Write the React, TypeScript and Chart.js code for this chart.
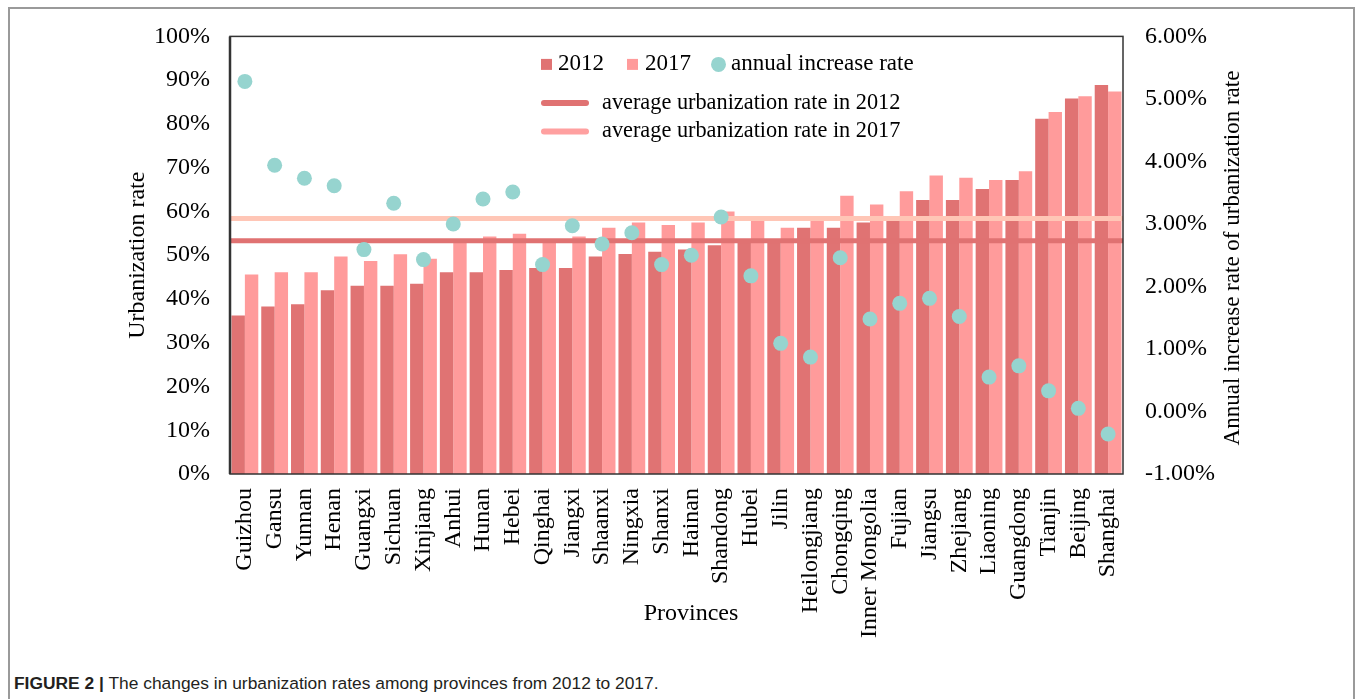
import React, { useEffect, useRef } from "react";
import { Chart, registerables } from "chart.js";

Chart.register(...registerables);

// ---------------- data ----------------
const provinces = [
  "Guizhou", "Gansu", "Yunnan", "Henan", "Guangxi", "Sichuan", "Xinjiang", "Anhui",
  "Hunan", "Hebei", "Qinghai", "Jiangxi", "Shaanxi", "Ningxia", "Shanxi", "Hainan",
  "Shandong", "Hubei", "Jilin", "Heilongjiang", "Chongqing", "Inner Mongolia", "Fujian",
  "Jiangsu", "Zhejiang", "Liaoning", "Guangdong", "Tianjin", "Beijing", "Shanghai",
];

const urbanization2012 = [
  36.2, 38.3, 38.8, 42.0, 43.0, 43.0, 43.5, 46.1, 46.1, 46.6, 47.1, 47.1, 49.7, 50.3, 50.8,
  51.3, 52.3, 53.7, 53.7, 56.3, 56.3, 57.5, 58.0, 62.6, 62.6, 65.1, 67.2, 81.2, 85.8, 88.9,
];

const urbanization2017 = [
  45.6, 46.1, 46.1, 49.7, 48.7, 50.2, 49.2, 53.3, 54.3, 54.9, 53.3, 54.3, 56.3, 57.5, 56.9,
  57.5, 60.0, 58.0, 56.3, 58.0, 63.6, 61.6, 64.6, 68.2, 67.7, 67.2, 69.2, 82.7, 86.3, 87.4,
];

const annualIncreaseRate = [
  5.28, 3.94, 3.73, 3.61, 2.59, 3.33, 2.43, 3.0, 3.4, 3.51, 2.35, 2.97, 2.68, 2.86, 2.35,
  2.5, 3.11, 2.17, 1.09, 0.87, 2.46, 1.48, 1.73, 1.81, 1.52, 0.55, 0.73, 0.33, 0.05, -0.36,
];

const average2012 = 53.3;
const average2017 = 58.4;

const leftAxisRange = [0, 100];
const leftAxisStep = 10;
const rightAxisRange = [-1, 6];
const rightAxisStep = 1;

const seriesNames = ["2012", "2017", "annual increase rate"];
const averageNames = ["average urbanization rate in 2012", "average urbanization rate in 2017"];
const leftTitle = "Urbanization rate";
const rightTitle = "Annual increase rate of urbanization rate";
const xTitle = "Provinces";

// ---------------- styles ----------------
const SERIF = "'Liberation Serif', 'Times New Roman', serif";
const COLOR_2012 = "#e07373";
const COLOR_2017 = "#ff9b9b";
const COLOR_DOT = "#96d4cf";
const COLOR_AVG2012 = "#e07272";
const COLOR_AVG2017_LINE = "#ffc6b6";
const COLOR_AVG2017_LEGEND = "#ffa0a0";

const W = 1355;
const H = 650;
const AREA = { left: 230, right: 1123, top: 35, bottom: 474 };

const decorPlugin = {
  id: "decor",
  beforeDatasetDraw(chart: any, args: any) {
    if (args.meta.type !== "line") return;
    const { ctx, chartArea: a, scales } = chart;
    const y = scales.y;
    ctx.save();
    ctx.lineWidth = 5;
    const lines: [number, string][] = [
      [average2017, COLOR_AVG2017_LINE],
      [average2012, COLOR_AVG2012],
    ];
    lines.forEach(([v, c]) => {
      const py = y.getPixelForValue(v);
      ctx.strokeStyle = c;
      ctx.beginPath();
      ctx.moveTo(a.left, py);
      ctx.lineTo(a.right, py);
      ctx.stroke();
    });
    ctx.restore();
  },
  afterDraw(chart: any) {
    const { ctx, chartArea: a } = chart;
    ctx.save();
    // plot frame
    ctx.strokeStyle = "#333";
    ctx.lineWidth = 1.5;
    ctx.strokeRect(a.left, a.top, a.right - a.left, a.bottom - a.top);
    ctx.lineWidth = 2.5;
    ctx.beginPath();
    ctx.moveTo(a.left, a.top);
    ctx.lineTo(a.left, a.bottom);
    ctx.stroke();

    // legend
    ctx.fillStyle = "#000";
    ctx.textBaseline = "middle";
    ctx.textAlign = "left";
    ctx.font = `23px ${SERIF}`;
    const ly = a.top + 28;
    ctx.fillStyle = COLOR_2012;
    ctx.fillRect(a.left + 311, ly - 5.5, 11, 11);
    ctx.fillStyle = "#000";
    ctx.fillText(seriesNames[0], a.left + 328, ly);
    ctx.fillStyle = COLOR_2017;
    ctx.fillRect(a.left + 397, ly - 5.5, 11, 11);
    ctx.fillStyle = "#000";
    ctx.fillText(seriesNames[1], a.left + 415, ly);
    ctx.fillStyle = COLOR_DOT;
    ctx.beginPath();
    ctx.arc(a.left + 488.5, ly, 7.5, 0, Math.PI * 2);
    ctx.fill();
    ctx.fillStyle = "#000";
    ctx.fillText(seriesNames[2], a.left + 501, ly);

    ctx.font = `22.3px ${SERIF}`;
    ctx.lineCap = "round";
    ctx.lineWidth = 6;
    const rows: [number, string, string][] = [
      [a.top + 66.5, COLOR_AVG2012, averageNames[0]],
      [a.top + 95, COLOR_AVG2017_LEGEND, averageNames[1]],
    ];
    rows.forEach(([yy, c, t]) => {
      ctx.strokeStyle = c;
      ctx.beginPath();
      ctx.moveTo(a.left + 314, yy);
      ctx.lineTo(a.left + 356, yy);
      ctx.stroke();
      ctx.fillStyle = "#000";
      ctx.fillText(t, a.left + 372, yy);
    });

    // axis titles
    ctx.textAlign = "center";
    ctx.fillStyle = "#000";
    ctx.font = `24px ${SERIF}`;
    ctx.save();
    ctx.translate(138, (a.top + a.bottom) / 2);
    ctx.rotate(-Math.PI / 2);
    ctx.fillText(leftTitle, 0, 0);
    ctx.restore();

    ctx.font = `23px ${SERIF}`;
    ctx.save();
    ctx.translate(1233, 258);
    ctx.rotate(-Math.PI / 2);
    ctx.fillText(rightTitle, 0, 0);
    ctx.restore();

    ctx.font = `24px ${SERIF}`;
    ctx.fillText(xTitle, 691, 614);
    ctx.restore();
  },
};

export default function App() {
  const canvasRef = useRef<HTMLCanvasElement | null>(null);

  useEffect(() => {
    if (!canvasRef.current) return;
    const tickFont = { family: SERIF, size: 24 };
    const chart = new Chart(canvasRef.current, {
      type: "bar",
      data: {
        labels: provinces,
        datasets: [
          {
            type: "line",
            label: seriesNames[2],
            data: annualIncreaseRate,
            yAxisID: "y1",
            showLine: false,
            pointRadius: 7.5,
            pointBackgroundColor: COLOR_DOT,
            pointBorderWidth: 0,
            pointBorderColor: COLOR_DOT,
            order: 0,
          } as any,
          {
            type: "bar",
            label: seriesNames[0],
            data: urbanization2012,
            yAxisID: "y",
            backgroundColor: COLOR_2012,
            borderWidth: 0,
            barPercentage: 1,
            categoryPercentage: 0.9,
            order: 1,
          },
          {
            type: "bar",
            label: seriesNames[1],
            data: urbanization2017,
            yAxisID: "y",
            backgroundColor: COLOR_2017,
            borderWidth: 0,
            barPercentage: 1,
            categoryPercentage: 0.9,
            order: 2,
          },
        ],
      },
      options: {
        responsive: false,
        animation: false,
        devicePixelRatio: 1,
        layout: { padding: { top: AREA.top, left: 0, right: 0, bottom: 0 } },
        plugins: { legend: { display: false }, tooltip: { enabled: false } },
        scales: {
          x: {
            type: "category",
            offset: true,
            grid: { display: false, drawTicks: false },
            border: { display: false },
            ticks: {
              minRotation: 90,
              maxRotation: 90,
              autoSkip: false,
              padding: 14,
              font: tickFont,
              color: "#000",
            },
            afterFit(s: any) {
              s.height = H - AREA.bottom;
            },
          },
          y: {
            position: "left",
            min: leftAxisRange[0],
            max: leftAxisRange[1],
            grid: { display: false, drawTicks: false },
            border: { display: false },
            ticks: {
              stepSize: leftAxisStep,
              padding: 20,
              font: tickFont,
              color: "#000",
              callback: (v: any) => `${v}%`,
            },
            afterFit(s: any) {
              s.width = AREA.left;
            },
          },
          y1: {
            position: "right",
            min: rightAxisRange[0],
            max: rightAxisRange[1],
            grid: { display: false, drawTicks: false },
            border: { display: false },
            ticks: {
              stepSize: rightAxisStep,
              padding: 22,
              font: tickFont,
              color: "#000",
              callback: (v: any) => `${Number(v).toFixed(2)}%`,
            },
            afterFit(s: any) {
              s.width = W - AREA.right;
            },
          },
        },
      } as any,
      plugins: [decorPlugin],
    });
    return () => chart.destroy();
  }, []);

  return (
    <div
      style={{
        position: "absolute",
        left: 0,
        top: 0,
        width: W,
        height: 699,
        overflow: "hidden",
        background: "#fff",
      }}
    >
      <div
        style={{
          position: "absolute",
          left: 8,
          top: 7,
          width: 1347,
          height: 730,
          border: "2px solid #9a9a9a",
          boxSizing: "border-box",
        }}
      />
      <canvas
        ref={canvasRef}
        width={W}
        height={H}
        style={{ position: "absolute", left: 0, top: 0, width: W, height: H }}
      />
      <div
        style={{
          position: "absolute",
          left: 14,
          top: 674,
          fontFamily: "'Liberation Sans', Arial, sans-serif",
          fontSize: 17.4,
          lineHeight: "18px",
          color: "#231f20",
          whiteSpace: "nowrap",
        }}
      >
        <b>FIGURE 2 |</b> The changes in urbanization rates among provinces from 2012 to 2017.
      </div>
    </div>
  );
}
